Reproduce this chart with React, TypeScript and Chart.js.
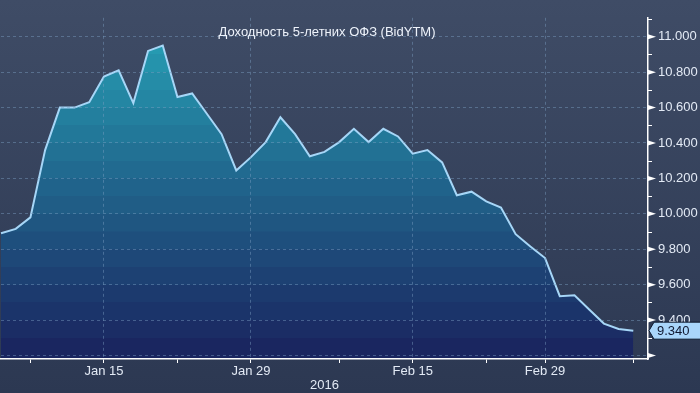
import React, { useEffect, useRef } from "react";
import { Chart, registerables } from "chart.js";

Chart.register(...registerables);

const categories = [
  "Jan 5", "Jan 6", "Jan 8", "Jan 11", "Jan 12", "Jan 13", "Jan 14", "Jan 15",
  "Jan 18", "Jan 19", "Jan 20", "Jan 21", "Jan 22", "Jan 25", "Jan 26", "Jan 27",
  "Jan 28", "Jan 29", "Feb 1", "Feb 2", "Feb 3", "Feb 4", "Feb 5", "Feb 8",
  "Feb 9", "Feb 10", "Feb 11", "Feb 12", "Feb 15", "Feb 16", "Feb 17", "Feb 18",
  "Feb 19", "Feb 20", "Feb 24", "Feb 25", "Feb 26", "Feb 29", "Mar 1", "Mar 2",
  "Mar 3", "Mar 4", "Mar 5", "Mar 9", "Mar 10",
];

const yields: (number | null)[] = [
  9.89, 9.915, 9.98, 10.36, 10.6, 10.6, 10.63, 10.775, 10.81, 10.625, 10.92,
  10.95, 10.66, 10.68, 10.565, 10.45, 10.245, 10.32, 10.405, 10.545, 10.45,
  10.325, 10.35, 10.405, 10.48, 10.405, 10.48, 10.437, 10.34, 10.36, 10.29,
  10.105, 10.125, 10.07, 10.035, 9.885, 9.815, 9.75, 9.535, 9.54, 9.46, 9.38,
  9.35, 9.34, null,
];

const majorTickLabels = ["Jan 15", "Jan 29", "Feb 15", "Feb 29"];
const minorTickLabels = ["Jan 8", "Jan 22", "Feb 8", "Feb 20", "Mar 9"];
const yearLabel = "2016";
const titleText = "Доходность 5-летних ОФЗ (BidYTM)";
const yMin = 9.18;
const yMax = 11.107;
const yStep = 0.2;
const lastValueText = "9.340";

const FONT = "'Liberation Sans', Arial, sans-serif";

function lerp(a: number, b: number, t: number) {
  return Math.round(a + (b - a) * t);
}

export default function App() {
  const ref = useRef<HTMLCanvasElement | null>(null);

  useEffect(() => {
    document.body.style.margin = "0";
    const canvas = ref.current;
    if (!canvas) return;

    const bgPlugin = {
      id: "bg",
      beforeDraw(chart: any) {
        const { ctx, width, height } = chart;
        const g = ctx.createLinearGradient(0, 0, 0, height);
        g.addColorStop(0, "#3f4c66");
        g.addColorStop(1, "#2c3852");
        ctx.save();
        ctx.fillStyle = g;
        ctx.fillRect(0, 0, width, height);
        ctx.restore();
      },
    };

    const overlayPlugin = {
      id: "overlay",
      afterDraw(chart: any) {
        const { ctx, chartArea } = chart;
        const ys = chart.scales.y;
        ctx.save();
        ctx.font = `13px ${FONT}`;
        ctx.fillStyle = "#eef3fb";
        ctx.textAlign = "center";
        ctx.textBaseline = "middle";
        ctx.fillText(titleText, 327, 32);

        const ax = chartArea.right;
        ctx.fillStyle = "#ffffff";
        ctx.strokeStyle = "#ffffff";
        ctx.lineWidth = 1;
        ys.ticks.forEach((t: any) => {
          const py = ys.getPixelForValue(t.value);
          ctx.beginPath();
          ctx.moveTo(ax, py - 2.5);
          ctx.lineTo(ax + 8, py);
          ctx.lineTo(ax, py + 2.5);
          ctx.closePath();
          ctx.fill();
          const mv = t.value + yStep / 2;
          if (mv <= yMax) {
            const my = Math.round(ys.getPixelForValue(mv)) + 0.5;
            ctx.beginPath();
            ctx.moveTo(ax, my);
            ctx.lineTo(ax + 4, my);
            ctx.stroke();
          }
        });

        const data = chart.data.datasets[0].data;
        let last = 0;
        for (let i = data.length - 1; i >= 0; i--) {
          if (data[i] != null) { last = data[i]; break; }
        }
        const ly = ys.getPixelForValue(last);
        ctx.beginPath();
        ctx.moveTo(ax + 1, ly);
        ctx.lineTo(ax + 6, ly - 8.5);
        ctx.lineTo(chart.width + 1, ly - 8.5);
        ctx.lineTo(chart.width + 1, ly + 8.5);
        ctx.lineTo(ax + 6, ly + 8.5);
        ctx.closePath();
        ctx.fillStyle = "#a9d6fb";
        ctx.fill();
        ctx.strokeStyle = "#0e1a2e";
        ctx.stroke();
        ctx.fillStyle = "#0f1830";
        ctx.font = `13px ${FONT}`;
        ctx.textAlign = "left";
        ctx.textBaseline = "middle";
        ctx.fillText(lastValueText, ax + 9, ly + 1);
        ctx.restore();
      },
    };

    const fillColor = (context: any) => {
      const chart = context.chart;
      const area = chart.chartArea;
      const ys = chart.scales.y;
      if (!area || !ys) return "#1f5f88";
      const g = chart.ctx.createLinearGradient(0, area.top, 0, area.bottom);
      const h = area.bottom - area.top;
      const top = { r: 38, g: 154, b: 177 };
      const bot = { r: 26, g: 38, b: 96 };
      const yTop = ys.getPixelForValue(10.95);
      const yBot = ys.getPixelForValue(9.25);
      for (let k = 111; k >= 91; k--) {
        const vHi = k / 10;
        const vLo = (k - 1) / 10;
        const pHi = Math.min(Math.max(ys.getPixelForValue(vHi), area.top), area.bottom);
        const pLo = Math.min(Math.max(ys.getPixelForValue(vLo), area.top), area.bottom);
        const mid = (pHi + pLo) / 2;
        let t = (mid - yTop) / (yBot - yTop);
        t = Math.min(Math.max(t, 0), 1);
        const c = `rgb(${lerp(top.r, bot.r, t)},${lerp(top.g, bot.g, t)},${lerp(top.b, bot.b, t)})`;
        const s1 = (pHi - area.top) / h;
        const s2 = (pLo - area.top) / h;
        g.addColorStop(Math.min(Math.max(s1, 0), 1), c);
        g.addColorStop(Math.min(Math.max(s2 - 0.0001, 0), 1), c);
      }
      return g;
    };

    const gridColor = "rgba(125,160,195,0.45)";

    const chart = new Chart(canvas, {
      type: "line",
      data: {
        labels: categories,
        datasets: [
          {
            data: yields,
            borderColor: "#a6d6f7",
            borderWidth: 2,
            pointRadius: 0,
            tension: 0,
            fill: "start",
            backgroundColor: fillColor,
            spanGaps: false,
          },
        ],
      },
      options: {
        responsive: false,
        animation: false,
        layout: { padding: 0 },
        plugins: {
          legend: { display: false },
          tooltip: { enabled: false },
          title: { display: false },
        },
        scales: {
          x: {
            type: "category",
            offset: false,
            afterFit: (s: any) => { s.height = 34; },
            grid: {
              z: 1,
              offset: false,
              drawOnChartArea: true,
              color: (c: any) =>
                majorTickLabels.includes(categories[c.index]) ? gridColor : "rgba(0,0,0,0)",
              tickColor: (c: any) =>
                majorTickLabels.includes(categories[c.index]) ||
                minorTickLabels.includes(categories[c.index])
                  ? "#ffffff"
                  : "rgba(0,0,0,0)",
              tickLength: 4,
              lineWidth: 1,
              tickBorderDash: [],
            },
            border: { display: true, color: "#ffffff", width: 1.5, dash: [3, 3], z: 2 },
            ticks: {
              autoSkip: false,
              maxRotation: 0,
              padding: 1,
              color: "#e3eaf5",
              font: { family: FONT, size: 13 },
              callback: (_v: any, i: number) =>
                majorTickLabels.includes(categories[i]) ? categories[i] : "",
            },
            title: {
              display: true,
              text: yearLabel,
              color: "#e3eaf5",
              font: { family: FONT, size: 13 },
              padding: 0,
            },
          },
          y: {
            position: "right",
            min: yMin,
            max: yMax,
            afterFit: (s: any) => { s.width = 52; },
            grid: {
              z: 1,
              color: gridColor,
              drawTicks: false,
              lineWidth: 1,
            },
            border: { display: true, color: "#ffffff", width: 1.5, dash: [3, 3], z: 2 },
            ticks: {
              stepSize: yStep,
              includeBounds: false,
              padding: 10,
              color: "#e3eaf5",
              font: { family: FONT, size: 13 },
              callback: (v: any) => (Number(v) < 9.3 ? "" : Number(v).toFixed(3)),
            },
          },
        },
      },
      plugins: [bgPlugin, overlayPlugin],
    });

    return () => chart.destroy();
  }, []);

  return (
    <div style={{ width: 700, height: 393 }}>
      <canvas ref={ref} width={700} height={393} style={{ display: "block" }} />
    </div>
  );
}
